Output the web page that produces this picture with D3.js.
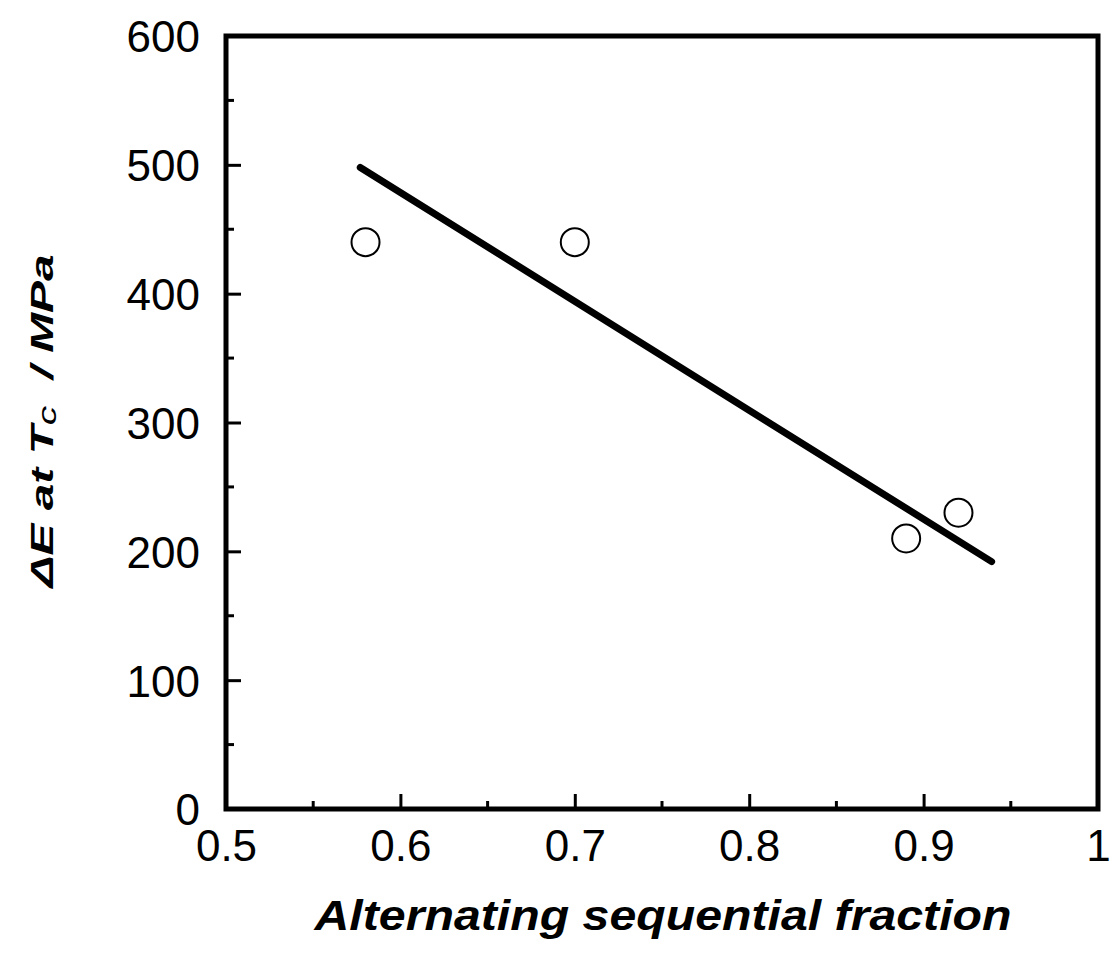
<!DOCTYPE html>
<html>
<head>
<meta charset="utf-8">
<script src="https://cdn.jsdelivr.net/npm/d3@7"></script>
<style>
  body { margin: 0; background: #fff; }
  text { font-family: "Liberation Sans", Arial, sans-serif; }
</style>
</head>
<body>
<svg id="chart"></svg>
<script>
// data
const fraction = [0.58, 0.70, 0.89, 0.92];
const deltaE = [440, 440, 210, 230];
const fitX = [0.577, 0.939];
const fitY = [498, 192];
const xTicks = [0.5, 0.6, 0.7, 0.8, 0.9, 1];
const xMinor = [0.55, 0.65, 0.75, 0.85, 0.95];
const yTicks = [0, 100, 200, 300, 400, 500, 600];
const yMinor = [50, 150, 250, 350, 450, 550];

const W = 1113, H = 953;
const margin = { left: 226, top: 36, right: 15, bottom: 144 };
const width = W - margin.left - margin.right;
const height = H - margin.top - margin.bottom;

const svg = d3.select("#chart")
    .attr("width", W)
    .attr("height", H);

const g = svg.append("g")
    .attr("transform", `translate(${margin.left},${margin.top})`);

const x = d3.scaleLinear().domain([0.5, 1]).range([0, width]);
const y = d3.scaleLinear().domain([0, 600]).range([height, 0]);

// inward ticks
const xAxis = d3.axisBottom(x).tickValues(xTicks).tickSize(-15).tickPadding(21)
    .tickFormat(d => d === 1 ? "1" : d3.format(".1f")(d));
const yAxis = d3.axisLeft(y).tickValues(yTicks).tickSize(-15).tickPadding(26);

const gx = g.append("g").attr("transform", `translate(0,${height})`).call(xAxis);
const gy = g.append("g").call(yAxis);

[gx, gy].forEach(a => {
    a.select(".domain").remove();
    a.selectAll(".tick line").attr("stroke", "#000").attr("stroke-width", 3);
    a.selectAll(".tick text").attr("fill", "#000").style("font-size", "44px");
});
gx.selectAll(".tick text").attr("dy", "0.71em");
gy.selectAll(".tick text").attr("dy", "0.36em");

g.append("g").selectAll("line")
    .data(xMinor)
    .enter().append("line")
    .attr("x1", d => x(d)).attr("x2", d => x(d))
    .attr("y1", height).attr("y2", height - 8)
    .attr("stroke", "#000").attr("stroke-width", 3);

g.append("g").selectAll("line")
    .data(yMinor)
    .enter().append("line")
    .attr("x1", 0).attr("x2", 8)
    .attr("y1", d => y(d)).attr("y2", d => y(d))
    .attr("stroke", "#000").attr("stroke-width", 3);

// frame
g.append("rect")
    .attr("x", 0).attr("y", 0)
    .attr("width", width).attr("height", height)
    .attr("fill", "none")
    .attr("stroke", "#000")
    .attr("stroke-width", 5);

// fit line
g.append("line")
    .attr("x1", x(fitX[0])).attr("y1", y(fitY[0]))
    .attr("x2", x(fitX[1])).attr("y2", y(fitY[1]))
    .attr("stroke", "#000")
    .attr("stroke-width", 7)
    .attr("stroke-linecap", "round");

// points
g.selectAll("circle")
    .data(fraction.map((f, i) => ({ f: f, e: deltaE[i] })))
    .enter().append("circle")
    .attr("cx", d => x(d.f))
    .attr("cy", d => y(d.e))
    .attr("r", 14)
    .attr("fill", "#fff")
    .attr("stroke", "#000")
    .attr("stroke-width", 2);

// axis titles
svg.append("text")
    .attr("x", 663).attr("y", 930)
    .attr("text-anchor", "middle")
    .attr("textLength", 697)
    .attr("lengthAdjust", "spacingAndGlyphs")
    .style("font-size", "42px")
    .style("font-weight", "bold")
    .style("font-style", "italic")
    .text("Alternating sequential fraction");

const yt = svg.append("text")
    .attr("transform", "translate(53,421) rotate(-90)")
    .attr("text-anchor", "middle")
    .attr("textLength", 333)
    .attr("lengthAdjust", "spacingAndGlyphs")
    .style("font-size", "32px")
    .style("font-weight", "bold")
    .style("font-style", "italic");
yt.append("tspan").text("\u0394E at T");
yt.append("tspan").attr("dy", 3).style("font-size", "26px").style("font-weight", "normal").text("c");
yt.append("tspan").attr("dy", -3).text("\u00a0\u00a0/ MPa");
</script>
</body>
</html>
